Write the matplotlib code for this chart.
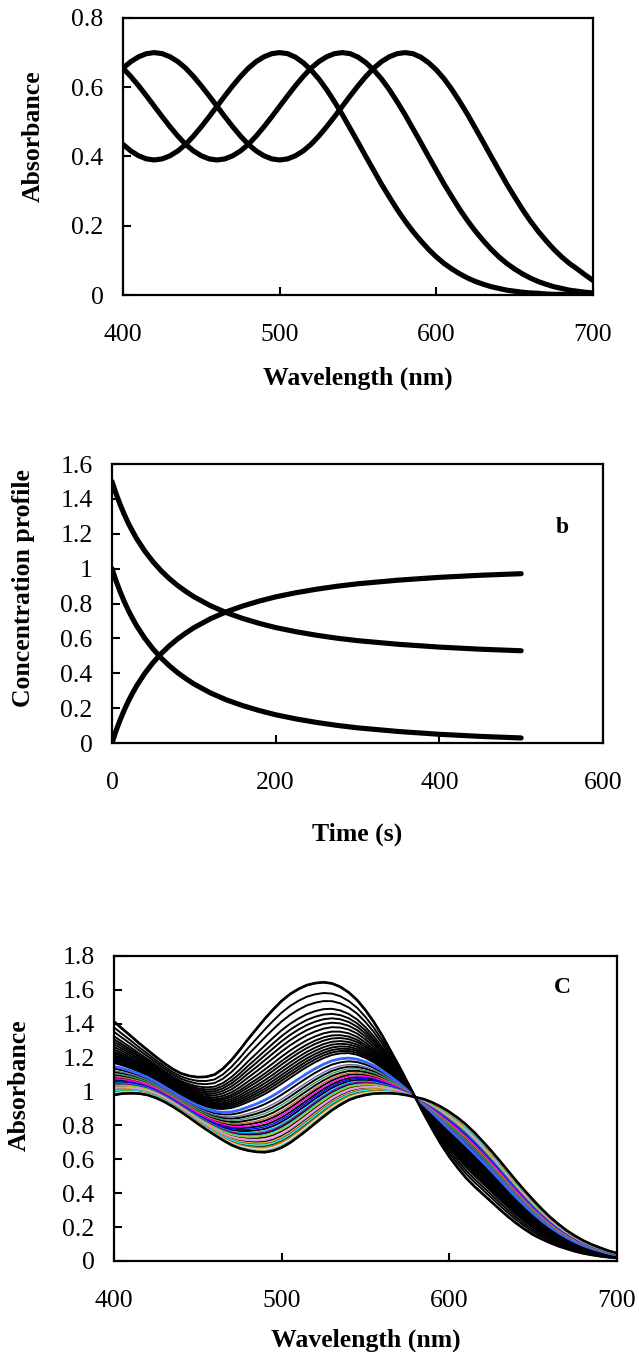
import numpy as np
import matplotlib
matplotlib.use("Agg")
import matplotlib.pyplot as plt
from matplotlib.ticker import FuncFormatter

plt.rcParams['font.family'] = ['Liberation Serif', 'DejaVu Serif']

# ---------------- Panel a data (5 nm grid) ----------------
wl_a = list(range(400, 705, 5))
abs_a1 = [0.435, 0.416, 0.402, 0.393, 0.390, 0.393, 0.402, 0.416, 0.435, 0.459, 0.486,
          0.515, 0.545, 0.575, 0.604, 0.631, 0.655, 0.674, 0.688, 0.697, 0.700, 0.697,
          0.687, 0.671, 0.650, 0.624, 0.593, 0.558, 0.521, 0.481, 0.441, 0.400, 0.360,
          0.320, 0.283, 0.247, 0.214, 0.184, 0.157, 0.132, 0.110, 0.091, 0.075, 0.061,
          0.049, 0.039, 0.031, 0.024, 0.019, 0.014, 0.011, 0.008, 0.006, 0.005, 0.003,
          0.002, 0.002, 0.001, 0.001, 0.001, 0.001]
abs_a2 = [0.655, 0.631, 0.604, 0.575, 0.545, 0.515, 0.486, 0.459, 0.435, 0.416, 0.402,
          0.393, 0.390, 0.393, 0.402, 0.416, 0.435, 0.459, 0.486, 0.515, 0.545, 0.575,
          0.604, 0.631, 0.655, 0.674, 0.688, 0.697, 0.700, 0.697, 0.687, 0.671, 0.650,
          0.624, 0.593, 0.558, 0.521, 0.481, 0.441, 0.400, 0.360, 0.320, 0.283, 0.247,
          0.214, 0.184, 0.157, 0.132, 0.110, 0.091, 0.075, 0.061, 0.049, 0.039, 0.031,
          0.024, 0.019, 0.014, 0.011, 0.008, 0.006]
abs_a3 = [0.655, 0.674, 0.688, 0.697, 0.700, 0.697, 0.688, 0.674, 0.655, 0.631, 0.604,
          0.575, 0.545, 0.515, 0.486, 0.459, 0.435, 0.416, 0.402, 0.393, 0.390, 0.393,
          0.402, 0.416, 0.435, 0.459, 0.486, 0.515, 0.545, 0.575, 0.604, 0.631, 0.655,
          0.674, 0.688, 0.697, 0.700, 0.697, 0.687, 0.671, 0.650, 0.624, 0.593, 0.558,
          0.521, 0.481, 0.441, 0.400, 0.360, 0.320, 0.283, 0.247, 0.214, 0.184, 0.157,
          0.132, 0.110, 0.091, 0.075, 0.058, 0.042]

# ---------------- Panel b data ----------------
time_b = [0, 5, 10, 15, 20, 25, 30, 40, 50, 60, 70, 80, 90, 100, 120, 140, 160, 180,
          200, 225, 250, 275, 300, 350, 400, 450, 500]
conc_A = [1.000, 0.929, 0.867, 0.811, 0.760, 0.715, 0.673, 0.601, 0.540, 0.488, 0.443,
          0.404, 0.370, 0.339, 0.288, 0.247, 0.214, 0.186, 0.162, 0.138, 0.118, 0.101,
          0.087, 0.066, 0.050, 0.038, 0.029]
conc_B = [1.500, 1.429, 1.367, 1.311, 1.260, 1.215, 1.173, 1.101, 1.040, 0.988, 0.943,
          0.904, 0.870, 0.839, 0.788, 0.747, 0.714, 0.686, 0.662, 0.638, 0.618, 0.601,
          0.587, 0.566, 0.550, 0.538, 0.529]
conc_C = [0.000, 0.071, 0.133, 0.189, 0.240, 0.285, 0.327, 0.399, 0.460, 0.512, 0.557,
          0.596, 0.630, 0.661, 0.712, 0.753, 0.786, 0.814, 0.838, 0.862, 0.882, 0.899,
          0.913, 0.934, 0.950, 0.962, 0.971]

# ---------------- Panel c data (5 nm grid) ----------------
wl_c = list(range(400, 705, 5))
spec_first = [1.413, 1.37, 1.328, 1.285, 1.245, 1.205, 1.167, 1.133, 1.107, 1.092,
              1.085, 1.087, 1.10, 1.135, 1.185, 1.245, 1.31, 1.37, 1.43, 1.485,
              1.535, 1.575, 1.605, 1.628, 1.64, 1.645, 1.638, 1.618, 1.585, 1.54,
              1.48, 1.41, 1.33, 1.24, 1.15, 1.055, 0.96, 0.865, 0.775, 0.69,
              0.615, 0.55, 0.49, 0.44, 0.395, 0.35, 0.305, 0.262, 0.222, 0.187,
              0.155, 0.13, 0.108, 0.088, 0.072, 0.057, 0.045, 0.036, 0.028, 0.022, 0.018]
spec_last = [0.98, 0.988, 0.99, 0.988, 0.98, 0.963, 0.94, 0.912, 0.88, 0.846,
             0.81, 0.776, 0.744, 0.713, 0.685, 0.665, 0.652, 0.644, 0.642, 0.651,
             0.67, 0.698, 0.734, 0.772, 0.813, 0.852, 0.89, 0.922, 0.95, 0.968,
             0.98, 0.988, 0.99, 0.99, 0.986, 0.978, 0.966, 0.955, 0.935, 0.91,
             0.88, 0.845, 0.805, 0.758, 0.705, 0.65, 0.592, 0.532, 0.472, 0.415,
             0.36, 0.308, 0.26, 0.218, 0.18, 0.148, 0.12, 0.097, 0.078, 0.06, 0.046]
# relative progress of each recorded spectrum (1 = first, 0 = last)
progress = [1.00, 0.92, 0.86, 0.80, 0.76, 0.725, 0.69, 0.655, 0.62, 0.59, 0.566,
            0.54, 0.517, 0.495, 0.475, 0.456, 0.436,
            0.39, 0.36, 0.33, 0.31, 0.29, 0.27, 0.25, 0.235, 0.22, 0.205,
            0.19, 0.175, 0.16, 0.15, 0.14, 0.13, 0.12, 0.11, 0.10, 0.09,
            0.08, 0.07, 0.062, 0.054, 0.046, 0.038, 0.03, 0.023, 0.016, 0.01,
            0.005, 0.0]
curve_colors = (['black'] * 17 +
                ['#3366FF', 'black', '#666699', 'black', '#339966', 'black', '#CC6633',
                 'black', '#FF00FF', 'black', '#0000FF', 'black', '#00CCFF', '#800080',
                 'black', '#33CCCC', '#99CC00', 'black', '#FF99CC', '#CC99FF', 'black',
                 '#FFCC00', '#993366', '#00FFFF', 'black', '#808000', '#FF6600',
                 '#CCFFCC', '#99CCFF', '#969696', '#FFFF00', 'black'])

fig = plt.figure(figsize=(6.39, 13.52), dpi=100)

fs = 18.5
fmt = FuncFormatter(lambda v, p: f"{v:g}")


def style_axes(ax):
    for s in ax.spines.values():
        s.set_linewidth(1.6)
    ax.tick_params(direction='in', length=6, width=1.5, labelsize=fs)
    ax.tick_params(axis='x', pad=21)
    ax.tick_params(axis='y', pad=14)
    ax.yaxis.set_major_formatter(fmt)
    ax.xaxis.set_major_formatter(fmt)


# Panel a
ax1 = fig.add_axes([0.1925, 0.7818, 0.7355, 0.2049])
for y in (abs_a1, abs_a2, abs_a3):
    ax1.plot(wl_a, y, color='black', lw=3.7, solid_capstyle='round',
             solid_joinstyle='round')
ax1.set_xlim(400, 700)
ax1.set_ylim(0, 0.8)
ax1.set_xticks([400, 500, 600, 700])
ax1.set_yticks([0, 0.2, 0.4, 0.6, 0.8])
style_axes(ax1)
ax1.set_xlabel('Wavelength (nm)', fontsize=fs, fontweight='bold', va='center')
ax1.xaxis.set_label_coords(0.5, -0.30)
ax1.set_ylabel('Absorbance', fontsize=fs, fontweight='bold', va='center')
ax1.yaxis.set_label_coords(-0.1915, 0.574)

# Panel b
ax2 = fig.add_axes([0.17527, 0.45044, 0.76839, 0.20636])
for y in (conc_A, conc_B, conc_C):
    ax2.plot(time_b, y, color='black', lw=3.7, solid_capstyle='round',
             solid_joinstyle='round')
ax2.set_xlim(0, 600)
ax2.set_ylim(0, 1.6)
ax2.set_xticks([0, 200, 400, 600])
ax2.set_yticks([0, 0.2, 0.4, 0.6, 0.8, 1.0, 1.2, 1.4, 1.6])
style_axes(ax2)
ax2.set_xlabel('Time (s)', fontsize=fs, fontweight='bold', va='center')
ax2.xaxis.set_label_coords(0.5, -0.326)
ax2.set_ylabel('Concentration profile', fontsize=fs, fontweight='bold', va='center')
ax2.yaxis.set_label_coords(-0.181, 0.556)
ax2.text(0.9165, 0.774, 'b', transform=ax2.transAxes, fontsize=17,
         fontweight='bold', ha='center', va='center')

# Panel c
ax3 = fig.add_axes([0.1784, 0.06731, 0.78717, 0.22559])
first = np.array(spec_first)
last = np.array(spec_last)
n_curves = min(len(progress), len(curve_colors))
# black curves first, coloured on top
for i in range(n_curves):
    if curve_colors[i] == 'black':
        ax3.plot(wl_c, last + progress[i] * (first - last), color='black', lw=1.4)
for i in range(n_curves):
    c = curve_colors[i]
    if c != 'black':
        ax3.plot(wl_c, last + progress[i] * (first - last), color=c,
                 lw=2.0 if c == '#3366FF' else 1.0)
ax3.plot(wl_c, spec_last, color='black', lw=1.9)
ax3.plot(wl_c, spec_first, color='black', lw=1.9)
ax3.set_xlim(400, 700)
ax3.set_ylim(0, 1.8)
ax3.set_xticks([400, 500, 600, 700])
ax3.set_yticks([0, 0.2, 0.4, 0.6, 0.8, 1.0, 1.2, 1.4, 1.6, 1.8])
style_axes(ax3)
ax3.set_xlabel('Wavelength (nm)', fontsize=fs, fontweight='bold', va='center')
ax3.xaxis.set_label_coords(0.5, -0.259)
ax3.set_ylabel('Absorbance', fontsize=fs, fontweight='bold', va='center')
ax3.yaxis.set_label_coords(-0.188, 0.577)
ax3.text(0.8907, 0.898, 'C', transform=ax3.transAxes, fontsize=17,
         fontweight='bold', ha='center', va='center')

fig.savefig('out.png', dpi=100)
